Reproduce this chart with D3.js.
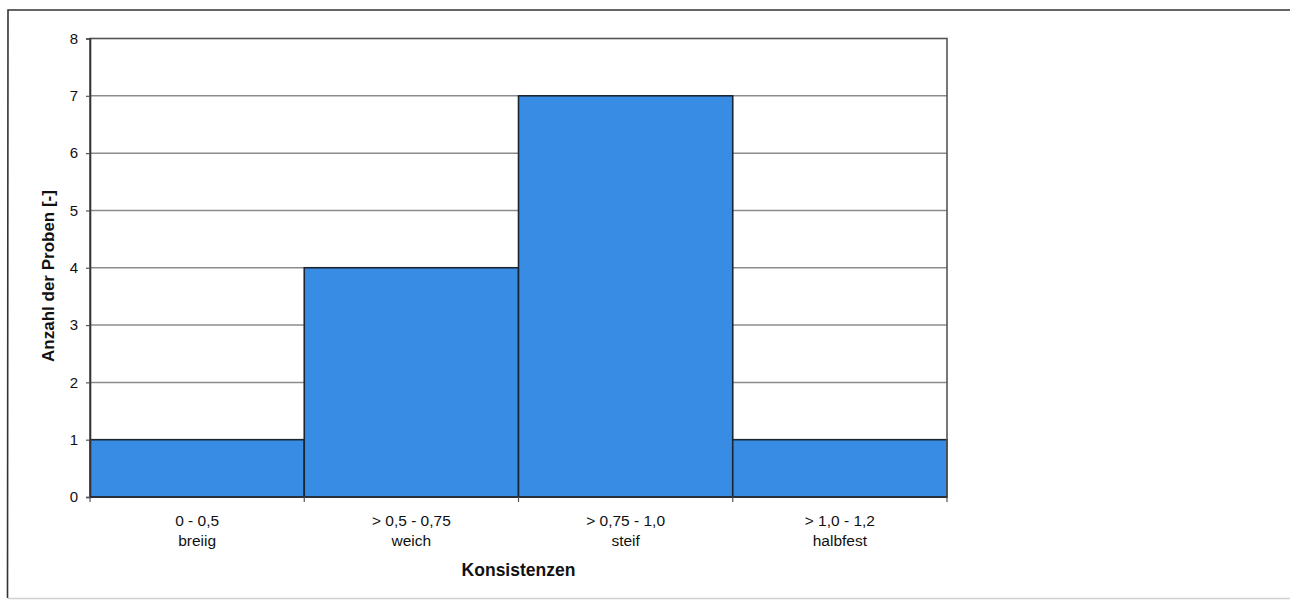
<!DOCTYPE html>
<html>
<head>
<meta charset="utf-8">
<script src="https://cdn.jsdelivr.net/npm/d3@7"></script>
<style>
  html, body { margin: 0; padding: 0; background: #fff; }
  svg { display: block; font-family: "Liberation Sans", Arial, sans-serif; }
</style>
</head>
<body>
<svg id="chart" width="1290" height="602"></svg>
<script>
// Konsistenzbereiche (Ic) und Anzahl der Proben je Bereich
const ranges = ["0 - 0,5", "> 0,5 - 0,75", "> 0,75 - 1,0", "> 1,0 - 1,2"];
const names = ["breiig", "weich", "steif", "halbfest"];
const counts = [1, 4, 7, 1];
const yTicks = [0, 1, 2, 3, 4, 5, 6, 7, 8];

const categories = ranges.map((r, i) => ({ range: r, name: names[i], count: counts[i] }));

const svg = d3.select("#chart");
const plot = { left: 90, top: 38.5, right: 947, bottom: 497 };

// Außenrahmen
svg.append("path")
  .attr("d", "M1290,10 L8,10 L7.5,598")
  .attr("fill", "none")
  .attr("stroke", "#333")
  .attr("stroke-width", 1.6);
svg.append("line")
  .attr("x1", 7.5).attr("x2", 1290)
  .attr("y1", 598.5).attr("y2", 598.5)
  .attr("stroke", "#d0d0d0")
  .attr("stroke-width", 1.6);

const x = d3.scaleBand()
  .domain(categories.map(d => d.range))
  .range([plot.left, plot.right])
  .padding(0);

const y = d3.scaleLinear()
  .domain([0, 8])
  .range([plot.bottom, plot.top]);

// Gitterlinien
svg.append("g")
  .selectAll("line")
  .data(yTicks.filter(t => t > 0 && t < 8))
  .join("line")
  .attr("x1", plot.left).attr("x2", plot.right)
  .attr("y1", d => y(d)).attr("y2", d => y(d))
  .attr("stroke", "#8c8c8c")
  .attr("stroke-width", 1.5);

// Balken
svg.append("g")
  .selectAll("rect")
  .data(categories)
  .join("rect")
  .attr("x", d => x(d.range))
  .attr("y", d => y(d.count))
  .attr("width", x.bandwidth())
  .attr("height", d => y(0) - y(d.count))
  .attr("fill", "#388ce4")
  .attr("stroke", "#1c2633")
  .attr("stroke-width", 1.6);

// Rahmen der Zeichenfläche
svg.append("rect")
  .attr("x", plot.left).attr("y", plot.top)
  .attr("width", plot.right - plot.left)
  .attr("height", plot.bottom - plot.top)
  .attr("fill", "none")
  .attr("stroke", "#555")
  .attr("stroke-width", 1.6);

// y-Achse
const yAxis = svg.append("g")
  .attr("transform", `translate(${plot.left},0)`)
  .call(d3.axisLeft(y).tickValues(yTicks).tickSize(4).tickPadding(8).tickFormat(d3.format("d")));
yAxis.select(".domain").attr("stroke", "#333").attr("stroke-width", 1.6);
yAxis.selectAll(".tick line").attr("stroke", "#555").attr("stroke-width", 1.2);
yAxis.selectAll(".tick text")
  .style("font-size", "15px")
  .style("font-family", "'Liberation Sans', Arial, sans-serif")
  .attr("fill", "#111");

// x-Achse mit Teilstrichen an den Klassengrenzen
const xAxis = svg.append("g")
  .attr("transform", `translate(0,${plot.bottom})`);
xAxis.append("line")
  .attr("x1", plot.left).attr("x2", plot.right)
  .attr("stroke", "#1c2633").attr("stroke-width", 1.6);
const bounds = categories.map(d => x(d.range)).concat([x(categories[categories.length - 1].range) + x.bandwidth()]);
xAxis.selectAll("line.tk")
  .data(bounds)
  .join("line")
  .attr("class", "tk")
  .attr("x1", d => d).attr("x2", d => d)
  .attr("y1", 0).attr("y2", 5)
  .attr("stroke", "#555").attr("stroke-width", 1.2);

const labels = xAxis.selectAll("text.cat")
  .data(categories)
  .join("text")
  .attr("class", "cat")
  .attr("text-anchor", "middle")
  .style("font-size", "15.5px")
  .attr("fill", "#111");
labels.append("tspan")
  .attr("x", d => x(d.range) + x.bandwidth() / 2)
  .attr("y", 28.5)
  .text(d => d.range);
labels.append("tspan")
  .attr("x", d => x(d.range) + x.bandwidth() / 2)
  .attr("y", 49)
  .text(d => d.name);

// Achsentitel
svg.append("text")
  .attr("x", (plot.left + plot.right) / 2)
  .attr("y", 576)
  .attr("text-anchor", "middle")
  .style("font-size", "17.5px")
  .attr("font-weight", "bold")
  .attr("fill", "#111")
  .text("Konsistenzen");

svg.append("text")
  .attr("transform", `translate(54,276) rotate(-90)`)
  .attr("text-anchor", "middle")
  .style("font-size", "17px")
  .attr("font-weight", "bold")
  .attr("fill", "#111")
  .text("Anzahl der Proben [-]");
</script>
</body>
</html>
